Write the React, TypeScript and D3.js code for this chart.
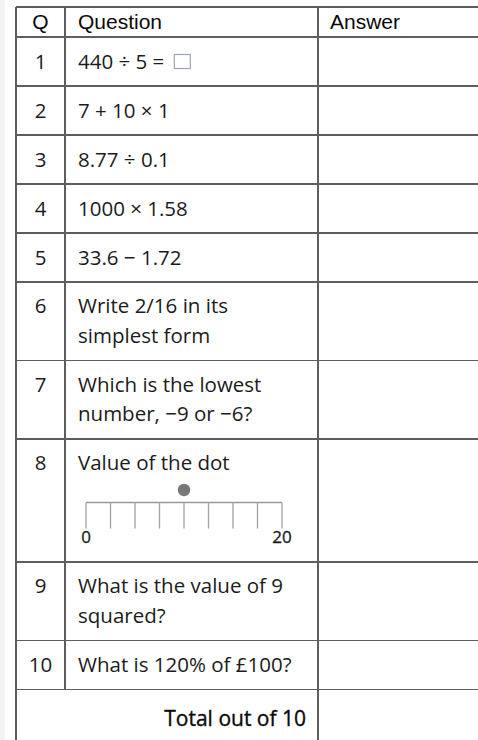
import React, { useEffect, useRef } from 'react';
import * as d3 from 'd3';

// table content
const qNumbers = ['1', '2', '3', '4', '5', '6', '7', '8', '9', '10'];
const questions: string[][] = [
  ['440 ÷ 5 ='],
  ['7 + 10 × 1'],
  ['8.77 ÷ 0.1'],
  ['1000 × 1.58'],
  ['33.6 − 1.72'],
  ['Write 2/16 in its', 'simplest form'],
  ['Which is the lowest', 'number, −9 or −6?'],
  ['Value of the dot'],
  ['What is the value of 9', 'squared?'],
  ['What is 120% of £100?'],
];
const headers = ['Q', 'Question', 'Answer'];
const totalLabel = 'Total out of 10';

// number line in question 8
const lineDomain = [0, 20];
const lineTicks = [0, 2.5, 5, 7.5, 10, 12.5, 15, 17.5, 20];
const lineLabels = [0, 20];
const dotValue = 10;

const W = 478;
const H = 740;
const BODY_FONT = '"Open Sans", "Liberation Sans", sans-serif';
const HEAD_FONT = '"Liberation Sans", Arial, sans-serif';

const App = () => {
  const svgRef = useRef<SVGSVGElement>(null);

  useEffect(() => {
    if (!svgRef.current) return;
    const svg = d3.select(svgRef.current);
    svg.selectAll('*').remove();

    const top = 7;
    const headerH = 30;
    const colX = [16, 65, 318, W + 2];
    const lineStroke = '#5e5e5e';

    // row heights depend on the number of text lines (and the number line)
    const rowHeight = (i: number) =>
      i === 7 ? 123 : questions[i].length > 1 ? 78.5 : 49;

    const rowTops: number[] = [];
    let y = top + headerH;
    questions.forEach((_, i) => {
      rowTops.push(y);
      y += rowHeight(i);
    });
    const totalTop = y;

    // faint strip at the far left
    svg.append('rect')
      .attr('x', 0).attr('y', 0)
      .attr('width', 5).attr('height', H)
      .attr('fill', '#f3f3f3');

    const grid = svg.append('g')
      .attr('stroke', lineStroke)
      .attr('stroke-width', 1.6)
      .attr('shape-rendering', 'crispEdges');

    // horizontal rules
    const hLines = [top, top + headerH, ...rowTops.slice(1), totalTop];
    hLines.forEach(hy => {
      grid.append('line')
        .attr('x1', colX[0]).attr('x2', colX[3])
        .attr('y1', hy).attr('y2', hy);
    });

    // vertical rules
    grid.append('line')
      .attr('x1', colX[0]).attr('x2', colX[0])
      .attr('y1', top).attr('y2', H);
    grid.append('line')
      .attr('x1', colX[1]).attr('x2', colX[1])
      .attr('y1', top).attr('y2', totalTop);
    grid.append('line')
      .attr('x1', colX[2]).attr('x2', colX[2])
      .attr('y1', top).attr('y2', H);

    // header
    const head = svg.append('g')
      .style('font-family', HEAD_FONT)
      .style('font-size', '21px')
      .attr('fill', '#0a0a0a');
    head.append('text')
      .attr('x', (colX[0] + colX[1]) / 2).attr('y', top + 22)
      .attr('text-anchor', 'middle')
      .text(headers[0]);
    head.append('text')
      .attr('x', colX[1] + 13).attr('y', top + 22)
      .text(headers[1]);
    head.append('text')
      .attr('x', colX[2] + 12).attr('y', top + 22)
      .text(headers[2]);

    // body rows
    const body = svg.append('g')
      .style('font-family', BODY_FONT)
      .style('font-size', '20.5px')
      .attr('fill', '#1b1b1b');

    questions.forEach((lines, i) => {
      const rTop = rowTops[i];
      const multi = lines.length > 1 || i === 7;
      const firstBase = multi ? rTop + 31 : rTop + rowHeight(i) / 2 + 7;

      body.append('text')
        .attr('x', (colX[0] + colX[1]) / 2).attr('y', firstBase)
        .attr('text-anchor', 'middle')
        .text(qNumbers[i]);

      lines.forEach((ln, j) => {
        const t = body.append('text')
          .attr('x', colX[1] + 13)
          .attr('y', firstBase + j * 29.5)
          .text(ln);

        // empty answer box after "440 ÷ 5 ="
        if (i === 0) {
          const len = (t.node() as SVGTextElement).getComputedTextLength();
          body.append('rect')
            .attr('x', colX[1] + 13 + len + 10)
            .attr('y', firstBase - 14)
            .attr('width', 16).attr('height', 14)
            .attr('fill', 'none')
            .attr('stroke', '#9aa4b4')
            .attr('stroke-width', 1.2);
        }
      });
    });

    // number line for question 8
    const r8 = rowTops[7];
    const x = d3.scaleLinear().domain(lineDomain).range([86, 282]);
    const nl = svg.append('g');
    const baseY = r8 + 63.5;

    nl.append('line')
      .attr('x1', x(lineDomain[0])).attr('x2', x(lineDomain[1]))
      .attr('y1', baseY).attr('y2', baseY)
      .attr('stroke', '#9a9a9a')
      .attr('stroke-width', 1.6);

    nl.selectAll('line.tick')
      .data(lineTicks)
      .join('line')
      .attr('class', 'tick')
      .attr('x1', d => x(d)).attr('x2', d => x(d))
      .attr('y1', baseY).attr('y2', baseY + 26)
      .attr('stroke', '#a8a8a8')
      .attr('stroke-width', 1.4);

    nl.append('circle')
      .attr('cx', x(dotValue))
      .attr('cy', baseY - 12.5)
      .attr('r', 6.2)
      .attr('fill', '#777');

    nl.selectAll('text')
      .data(lineLabels)
      .join('text')
      .attr('x', d => x(d))
      .attr('y', baseY + 40)
      .attr('text-anchor', 'middle')
      .style('font-family', BODY_FONT)
      .style('font-size', '17px')
      .style('font-weight', 500)
      .attr('fill', '#1a1a1a')
      .attr('stroke', '#1a1a1a')
      .attr('stroke-width', 0.3)
      .text(d => d);

    // total row
    svg.append('text')
      .attr('x', colX[2] - 12)
      .attr('y', totalTop + 36)
      .attr('text-anchor', 'end')
      .style('font-family', BODY_FONT)
      .style('font-size', '21px')
      .style('font-weight', 500)
      .attr('fill', '#0a0a0a')
      .attr('stroke', '#0a0a0a')
      .attr('stroke-width', 0.35)
      .text(totalLabel);
  }, []);

  return (
    <svg
      ref={svgRef}
      width={W}
      height={H}
      style={{ position: 'absolute', left: 0, top: 0, background: '#fff' }}
    />
  );
};

export default App;
